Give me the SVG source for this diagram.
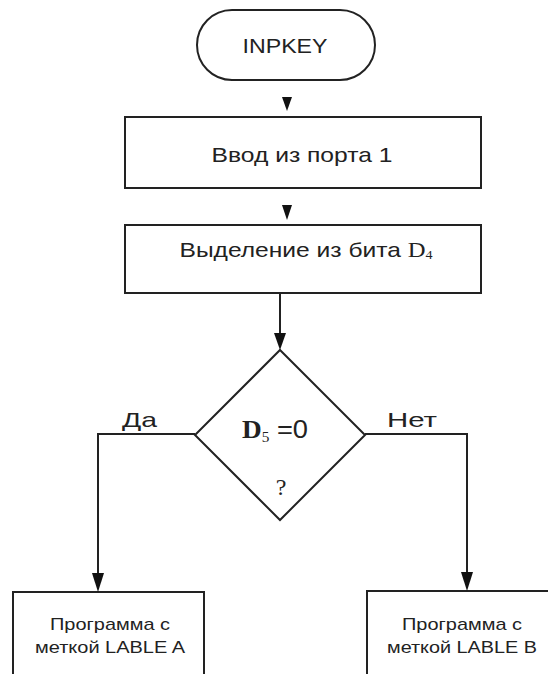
<svg xmlns="http://www.w3.org/2000/svg" width="548" height="674" viewBox="0 0 548 674">
<style>
.s{fill:#fff;stroke:#222;stroke-width:2}
.c{fill:none;stroke:#222;stroke-width:2}
.t{font-family:"Liberation Sans",Arial,sans-serif;fill:#222;text-anchor:middle}
.ser{font-family:"Liberation Serif","Times New Roman",serif}
.h{fill:#111}
</style>
<rect width="548" height="674" fill="#fff"/>
<g id="start">
<rect x="197" y="10" width="178" height="70" rx="35" class="s"/>
<text x="285" y="53" class="t" font-size="21" textLength="85" lengthAdjust="spacingAndGlyphs">INPKEY</text>
</g>
<g id="input">
<rect x="125" y="117" width="356" height="71" class="s"/>
<text x="302" y="162" class="t" font-size="21" textLength="181" lengthAdjust="spacingAndGlyphs">Ввод из порта 1</text>
</g>
<g id="extract">
<rect x="125" y="225" width="356" height="68" class="s"/>
<text x="306" y="257" class="t" font-size="21" textLength="253" lengthAdjust="spacingAndGlyphs">Выделение из бита <tspan class="ser">D</tspan><tspan class="ser" font-size="12" dy="2">4</tspan></text>
</g>
<g id="decision">
<path d="M280,350 L365,435 L280,520 L195,435 Z" class="s"/>
<text x="275" y="438" class="t" font-size="25" textLength="66" lengthAdjust="spacingAndGlyphs"><tspan class="ser" font-weight="bold">D</tspan><tspan class="ser" font-size="14" dy="4">5</tspan><tspan dy="-4"> =0</tspan></text>
<text x="281" y="495" class="t ser" font-size="24">?</text>
</g>
<g id="progA">
<rect x="13" y="592" width="191" height="100" class="s"/>
<text x="110" y="630" class="t" font-size="17" textLength="120" lengthAdjust="spacingAndGlyphs">Программа с</text>
<text x="110" y="653" class="t" font-size="17" textLength="150" lengthAdjust="spacingAndGlyphs">меткой LABLE A</text>
</g>
<g id="progB">
<rect x="367" y="591" width="190" height="100" class="s"/>
<text x="462" y="630" class="t" font-size="17" textLength="120" lengthAdjust="spacingAndGlyphs">Программа с</text>
<text x="462" y="653" class="t" font-size="17" textLength="150" lengthAdjust="spacingAndGlyphs">меткой LABLE B</text>
</g>
<g id="connectors">
<path d="M282,97 L292,97 L287,111 Z" class="h"/>
<path d="M282,205 L292,205 L287,220 Z" class="h"/>
<path d="M280,293 L280,334" class="c"/>
<path d="M274,333 L286,333 L280,350 Z" class="h"/>
<path d="M195,434 L98,434 L98,574" class="c"/>
<path d="M92,573 L104,573 L98,592 Z" class="h"/>
<path d="M365,434 L467,434 L467,573" class="c"/>
<path d="M461,572 L473,572 L467,591 Z" class="h"/>
<text x="139.5" y="427" class="t" font-size="21" textLength="35" lengthAdjust="spacingAndGlyphs">Да</text>
<text x="412" y="427" class="t" font-size="21" textLength="50" lengthAdjust="spacingAndGlyphs">Нет</text>
</g>
</svg>
